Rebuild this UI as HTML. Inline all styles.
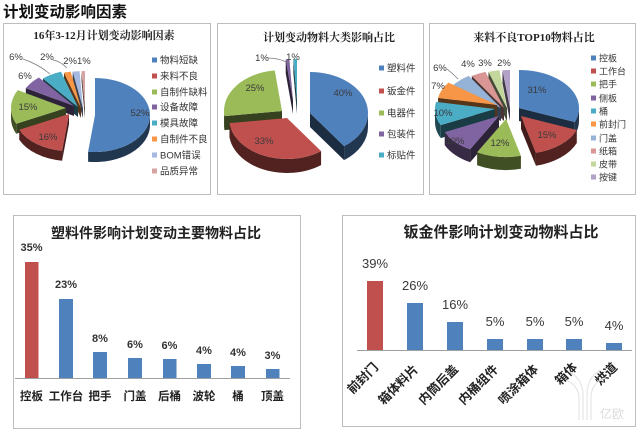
<!DOCTYPE html>
<html><head><meta charset="utf-8">
<style>
html,body{margin:0;padding:0;background:#fff;}
svg{display:block;}
.t{font-family:"Liberation Sans","Noto Sans CJK SC",sans-serif;}
.s{font-family:"Liberation Serif","Noto Serif CJK SC",serif;}
</style></head>
<body>
<svg id="c" width="640" height="431" viewBox="0 0 640 431" xmlns="http://www.w3.org/2000/svg">
<rect width="640" height="431" fill="#fff"/>
<!-- main title -->
<text class="t" x="3" y="17" font-size="15.5" font-weight="bold" fill="#111">计划变动影响因素</text>

<!-- panel borders -->
<g fill="none" stroke="#bdbdbd" stroke-width="1">
<rect x="3.5" y="23.5" width="207" height="171"/>
<rect x="217.5" y="23.5" width="206" height="171"/>
<rect x="429.5" y="23.5" width="206" height="171"/>
<rect x="13.5" y="215.5" width="287" height="213"/>
<rect x="342.5" y="215.5" width="293" height="211"/>
</g>

<!-- top panel titles -->
<g class="s" font-size="11" font-weight="bold" fill="#222" text-anchor="middle">
<text x="104" y="39">16年3-12月计划变动影响因素</text>
<text x="329" y="41">计划变动物料大类影响占比</text>
<text x="534" y="41">来料不良TOP10物料占比</text>
</g>

<g id="pies"></g>

<!-- pie labels -->
<g class="t" font-size="9.5" fill="#3a3a3a" text-anchor="middle">
<text x="140" y="116">52%</text>
<text x="48" y="140">16%</text>
<text x="28" y="110">15%</text>
<text x="25" y="79">6%</text>
<text x="16" y="60">6%</text>
<text x="47" y="60">2%</text>
<text x="77" y="64">2%1%</text>

<text x="343" y="96">40%</text>
<text x="264" y="144">33%</text>
<text x="255" y="91">25%</text>
<text x="262" y="61">1%</text>
<text x="293" y="60">1%</text>

<text x="537" y="93">31%</text>
<text x="547" y="138">15%</text>
<text x="500" y="146">12%</text>
<text x="455" y="144">10%</text>
<text x="443" y="116">10%</text>
<text x="438" y="89">7%</text>
<text x="440" y="71">6%</text>
<text x="468" y="67">4%</text>
<text x="485" y="66">3%</text>
<text x="504" y="66">2%</text>
</g>
<g fill="none" stroke="#777" stroke-width="0.8">
<path d="M23,59 Q38,64 50,74"/>
<path d="M53,60 Q60,61 67,68"/>
<path d="M268,58 Q280,58 290,64"/>
<path d="M447,69 Q452,73 458,79"/>
</g>

<!-- legends -->
<g class="t" font-size="9.5" fill="#333">
<rect x="152" y="57.5" width="5" height="5" fill="#4f81bd"/><text x="160" y="63.5">物料短缺</text>
<rect x="152" y="73.5" width="5" height="5" fill="#c0504d"/><text x="160" y="79.5">来料不良</text>
<rect x="152" y="89.5" width="5" height="5" fill="#9bbb59"/><text x="160" y="95.5">自制件缺料</text>
<rect x="152" y="104.5" width="5" height="5" fill="#8064a2"/><text x="160" y="110.5">设备故障</text>
<rect x="152" y="120.5" width="5" height="5" fill="#4bacc6"/><text x="160" y="126.5">模具故障</text>
<rect x="152" y="136.5" width="5" height="5" fill="#f79646"/><text x="160" y="142.5">自制件不良</text>
<rect x="152" y="152.5" width="5" height="5" fill="#a5b9e0"/><text x="160" y="158.5">BOM错误</text>
<rect x="152" y="168.5" width="5" height="5" fill="#d6a5a3"/><text x="160" y="174.5">品质异常</text>

<rect x="379" y="65.5" width="5" height="5" fill="#4f81bd"/><text x="387" y="71.5">塑料件</text>
<rect x="379" y="88.5" width="5" height="5" fill="#c0504d"/><text x="387" y="94.5">钣金件</text>
<rect x="379" y="110.5" width="5" height="5" fill="#9bbb59"/><text x="387" y="116.5">电器件</text>
<rect x="379" y="131.5" width="5" height="5" fill="#8064a2"/><text x="387" y="137.5">包装件</text>
<rect x="379" y="152.5" width="5" height="5" fill="#4bacc6"/><text x="387" y="158.5">标贴件</text>
</g>
<g class="t" font-size="9" fill="#333">
<rect x="591" y="55.5" width="5" height="5" fill="#4f81bd"/><text x="599" y="61.5">控板</text>
<rect x="591" y="68.5" width="5" height="5" fill="#c0504d"/><text x="599" y="74.5">工作台</text>
<rect x="591" y="81.5" width="5" height="5" fill="#9bbb59"/><text x="599" y="87.5">把手</text>
<rect x="591" y="95.5" width="5" height="5" fill="#8064a2"/><text x="599" y="101.5">侧板</text>
<rect x="591" y="108.5" width="5" height="5" fill="#4bacc6"/><text x="599" y="114.5">桶</text>
<rect x="591" y="121.5" width="5" height="5" fill="#f79646"/><text x="599" y="127.5">前封门</text>
<rect x="591" y="135.5" width="5" height="5" fill="#95b3d7"/><text x="599" y="141.5">门盖</text>
<rect x="591" y="148.5" width="5" height="5" fill="#d99694"/><text x="599" y="154.5">纸箱</text>
<rect x="591" y="161.5" width="5" height="5" fill="#c3d69b"/><text x="599" y="167.5">皮带</text>
<rect x="591" y="174.5" width="5" height="5" fill="#b3a2c7"/><text x="599" y="180.5">按键</text>
</g>

<!-- bottom-left bar chart -->
<text class="t" x="156" y="238" font-size="14" font-weight="bold" fill="#222" text-anchor="middle">塑料件影响计划变动主要物料占比</text>
<line x1="15" y1="378.5" x2="290" y2="378.5" stroke="#a0a0a0" stroke-width="1"/>
<g>
<rect x="25" y="262" width="13.5" height="116" fill="#c0504d"/>
<rect x="59" y="299" width="14" height="79" fill="#4f81bd"/>
<rect x="93" y="352" width="14" height="26" fill="#4f81bd"/>
<rect x="128" y="358" width="14" height="20" fill="#4f81bd"/>
<rect x="163" y="359" width="13.5" height="19" fill="#4f81bd"/>
<rect x="197" y="364" width="14" height="14" fill="#4f81bd"/>
<rect x="231" y="366" width="14" height="12" fill="#4f81bd"/>
<rect x="266" y="369" width="13.5" height="9" fill="#4f81bd"/>
</g>
<g class="t" font-size="11" font-weight="bold" fill="#333" text-anchor="middle">
<text x="31.5" y="251">35%</text>
<text x="66" y="288">23%</text>
<text x="100" y="342">8%</text>
<text x="135" y="348">6%</text>
<text x="169.5" y="349">6%</text>
<text x="204" y="354">4%</text>
<text x="238" y="356">4%</text>
<text x="272.5" y="359">3%</text>
</g>
<g class="t" font-size="11.5" font-weight="bold" fill="#222" text-anchor="middle">
<text x="31.5" y="400">控板</text>
<text x="66" y="400">工作台</text>
<text x="100" y="400">把手</text>
<text x="135" y="400">门盖</text>
<text x="169.5" y="400">后桶</text>
<text x="204" y="400">波轮</text>
<text x="238" y="400">桶</text>
<text x="272.5" y="400">顶盖</text>
</g>

<!-- bottom-right bar chart -->
<text class="t" x="501" y="237" font-size="15" font-weight="bold" fill="#222" text-anchor="middle">钣金件影响计划变动物料占比</text>
<line x1="357" y1="350.5" x2="632" y2="350.5" stroke="#a0a0a0" stroke-width="1"/>
<g>
<rect x="367" y="281" width="16" height="69" fill="#c0504d"/>
<rect x="407" y="303" width="16" height="47" fill="#4f81bd"/>
<rect x="447" y="322" width="16" height="28" fill="#4f81bd"/>
<rect x="487" y="339" width="16" height="11" fill="#4f81bd"/>
<rect x="527" y="339" width="16" height="11" fill="#4f81bd"/>
<rect x="566" y="339" width="16" height="11" fill="#4f81bd"/>
<rect x="606" y="343" width="16" height="7" fill="#4f81bd"/>
</g>
<g class="t" font-size="13" fill="#3a3a3a" text-anchor="middle">
<text x="375" y="268">39%</text>
<text x="415" y="290">26%</text>
<text x="455" y="309">16%</text>
<text x="495" y="326">5%</text>
<text x="535" y="326">5%</text>
<text x="574" y="326">5%</text>
<text x="614" y="330">4%</text>
</g>
<g class="t" font-size="12.5" font-weight="bold" fill="#222" text-anchor="end">
<text transform="translate(379,368) rotate(-45)">前封门</text>
<text transform="translate(419,370) rotate(-45)">箱体料片</text>
<text transform="translate(459,370) rotate(-45)">内筒后盖</text>
<text transform="translate(499,370) rotate(-45)">内桶组件</text>
<text transform="translate(539,370) rotate(-45)">喷涂箱体</text>
<text transform="translate(578,368) rotate(-45)">箱体</text>
<text transform="translate(618,368) rotate(-45)">烘道</text>
</g>
<!-- watermark -->
<g fill="none" stroke="#e6e6e6" stroke-width="1.2">
<path d="M583,420 L583,395 Q583,380 570,372"/>
<path d="M587,420 L587,395 Q587,378 600,370"/>
<path d="M579,420 L579,398 Q579,386 566,380"/>
<path d="M591,420 L591,398 Q591,384 604,378"/>
</g>
<text class="t" x="600" y="418" font-size="12" fill="#dcdcdc">亿欧</text>
</svg>
<script>
(function(){
var NS='http://www.w3.org/2000/svg';
var G=document.getElementById('pies');
function shade(hex,f){var n=parseInt(hex.slice(1),16);var r=(n>>16)&255,g=(n>>8)&255,b=n&255;return 'rgb('+Math.round(r*f)+','+Math.round(g*f)+','+Math.round(b*f)+')';}
function fx(v){return v.toFixed(2);}
function add(d,fill){var p=document.createElementNS(NS,'path');p.setAttribute('d',d);p.setAttribute('fill',fill);G.appendChild(p);}
function pie(rx,ry,h,sl){
  var a=0;var items=sl.map(function(s){var a0=a;a+=s[0]*3.6;return {a0:a0,a1:a,cx:s[1],cy:s[2],c:s[3]};});
  function P(s,ang,dy){var t=ang*Math.PI/180;return [s.cx+rx*Math.sin(t), s.cy-ry*Math.cos(t)+(dy||0)];}
  items.forEach(function(s){var m=(s.a0+s.a1)/2*Math.PI/180;s.k=s.cy-ry*Math.cos(m);});
  var ord=items.slice().sort(function(p,q){return p.k-q.k;});
  ord.forEach(function(s){
    var side=shade(s.c,0.35);
    var faces=[[s.a0,Math.sin(s.a0*Math.PI/180)<-1e-6],[s.a1,Math.sin(s.a1*Math.PI/180)>1e-6]];
    faces.forEach(function(fa){
      if(!fa[1])return;var p=P(s,fa[0]);
      add('M'+fx(s.cx)+','+fx(s.cy)+' L'+fx(p[0])+','+fx(p[1])+' L'+fx(p[0])+','+fx(p[1]+h)+' L'+fx(s.cx)+','+fx(s.cy+h)+' Z',side);
    });
    var st=Math.max(s.a0,90),en=Math.min(s.a1,270);
    if(en>st){
      var p1=P(s,st),p2=P(s,en);
      add('M'+fx(p1[0])+','+fx(p1[1])+' A'+rx+','+ry+' 0 0 1 '+fx(p2[0])+','+fx(p2[1])+' L'+fx(p2[0])+','+fx(p2[1]+h)+' A'+rx+','+ry+' 0 0 0 '+fx(p1[0])+','+fx(p1[1]+h)+' Z',shade(s.c,0.42));
    }
    var q1=P(s,s.a0),q2=P(s,s.a1),lg=(s.a1-s.a0)>180?1:0;
    add('M'+fx(s.cx)+','+fx(s.cy)+' L'+fx(q1[0])+','+fx(q1[1])+' A'+rx+','+ry+' 0 '+lg+' 1 '+fx(q2[0])+','+fx(q2[1])+' Z',s.c);
  });
}
pie(55,37,10,[
 [52,95,115,'#4f81bd'],[16,69,114,'#c0504d'],[15,66,108,'#9bbb59'],[6,74,106,'#8064a2'],
 [6,78,107,'#4bacc6'],[2,81,108,'#f79646'],[2,83,108,'#a5b9e0'],[1,85,108,'#d6a5a3']]);
pie(58,41,14,[
 [40,310,113,'#4f81bd'],[33,287,118,'#c0504d'],[25,282,111,'#9bbb59'],[1,293,100,'#8064a2'],[1,297,100,'#4bacc6']]);
pie(60,38,13,[
 [31,519,108,'#4f81bd'],[15,521,116,'#c0504d'],[12,506,119,'#9bbb59'],[10,499,116,'#8064a2'],
 [10,495,109,'#4bacc6'],[7,497,105,'#f79646'],[6,501,108,'#95b3d7'],[4,504,108,'#d99694'],
 [3,507,108,'#c3d69b'],[2,510,108,'#b3a2c7']]);
})();
</script>
</body></html>
